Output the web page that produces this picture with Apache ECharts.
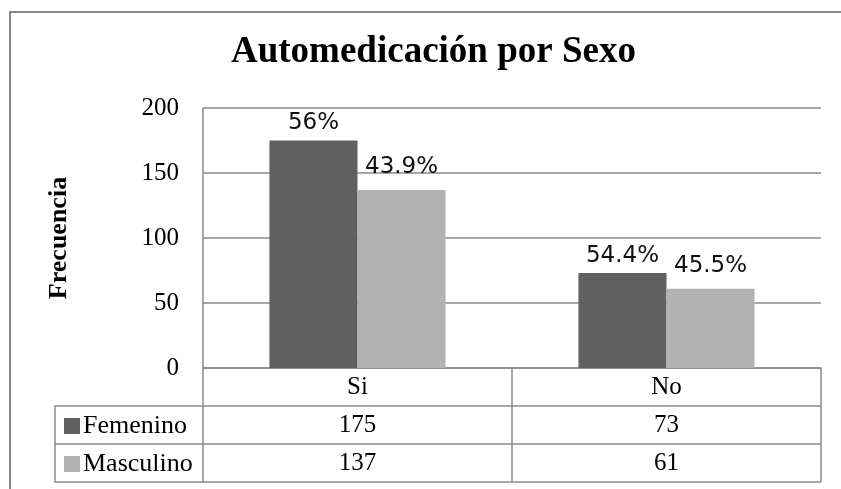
<!DOCTYPE html>
<html>
<head>
<meta charset="utf-8">
<script src="https://cdn.jsdelivr.net/npm/echarts@6/dist/echarts.min.js"></script>
<style>
  html, body { margin: 0; padding: 0; background: #fff; }
  #main { width: 841px; height: 489px; }
</style>
</head>
<body>
<div id="main"></div>
<script>
const categories = ["Si", "No"];
const femenino = [175, 73];
const masculino = [137, 61];
const femeninoPct = ["56%", "54.4%"];
const masculinoPct = ["43.9%", "45.5%"];
const yTicks = [0, 50, 100, 150, 200];

const serif = "'Liberation Serif', 'Times New Roman', serif";
const sans = "'DejaVu Sans', Verdana, sans-serif";
const lineCol = "#8a8a8a";
// plot box
const GL = 203, GT = 108, GR = 821, GB = 368, ROW = 38, TL = 55;

const chart = echarts.init(document.getElementById("main"));

const option = {
  animation: false,
  backgroundColor: "#fff",
  title: {
    text: "Automedicación por Sexo",
    left: 226,
    top: 29,
    textStyle: { fontFamily: serif, fontWeight: "bold", fontSize: 37, color: "#000" },
  },
  legend: {
    orient: "vertical",
    left: 59,
    top: 408,
    itemGap: 12,
    itemWidth: 16,
    itemHeight: 16,
    icon: "rect",
    textStyle: { fontFamily: serif, fontSize: 26, color: "#000", padding: [0, 0, 0, -2] },
    data: ["Femenino", "Masculino"],
  },
  grid: { left: GL, top: GT, right: 841 - GR, bottom: 489 - GB },
  xAxis: {
    type: "category",
    data: categories,
    axisLine: { lineStyle: { color: lineCol, width: 1.5 } },
    axisTick: { show: true, length: ROW * 3, lineStyle: { color: lineCol, width: 1.5 } },
    axisLabel: {
      margin: 0,
      fontFamily: serif,
      fontSize: 25,
      lineHeight: ROW,
      color: "#000",
      formatter: (v, i) => [v, femenino[i], masculino[i]].join("\n"),
    },
  },
  yAxis: {
    type: "value",
    min: yTicks[0],
    max: yTicks[yTicks.length - 1],
    interval: 50,
    name: "Frecuencia",
    nameLocation: "middle",
    nameRotate: 90,
    nameGap: 131,
    nameTextStyle: { fontFamily: serif, fontWeight: "bold", fontSize: 26, color: "#000" },
    axisLine: { show: true, lineStyle: { color: lineCol, width: 1.5 } },
    axisTick: { show: false },
    axisLabel: { margin: 24, fontFamily: serif, fontSize: 25, color: "#000" },
    splitLine: { lineStyle: { color: lineCol, width: 1.5 } },
  },
  series: [
    {
      name: "Femenino",
      type: "bar",
      data: femenino,
      barGap: "0%",
      barCategoryGap: "43%",
      itemStyle: { color: "#606060" },
      label: {
        show: true,
        position: "top",
        distance: 6,
        fontFamily: sans,
        fontSize: 23,
        color: "#111",
        formatter: (p) => femeninoPct[p.dataIndex],
      },
    },
    {
      name: "Masculino",
      type: "bar",
      data: masculino,
      itemStyle: { color: "#b2b2b2" },
      label: {
        show: true,
        position: "top",
        distance: 11,
        fontFamily: sans,
        fontSize: 23,
        color: "#111",
        formatter: (p) => masculinoPct[p.dataIndex],
      },
    },
  ],
  graphic: [
    {
      type: "rect",
      shape: { x: 10, y: 12, width: 900, height: 600 },
      style: { fill: null, stroke: "#868686", lineWidth: 2 },
      silent: true,
    },
    {
      type: "polyline",
      shape: { points: [[GR, GB + ROW], [TL, GB + ROW], [TL, GB + ROW * 3], [GR, GB + ROW * 3]] },
      style: { fill: null, stroke: lineCol, lineWidth: 1.5 },
      silent: true,
    },
    {
      type: "line",
      shape: { x1: TL, y1: GB + ROW * 2, x2: GR, y2: GB + ROW * 2 },
      style: { stroke: lineCol, lineWidth: 1.5 },
      silent: true,
    },
  ],
};

chart.setOption(option);
</script>
</body>
</html>
